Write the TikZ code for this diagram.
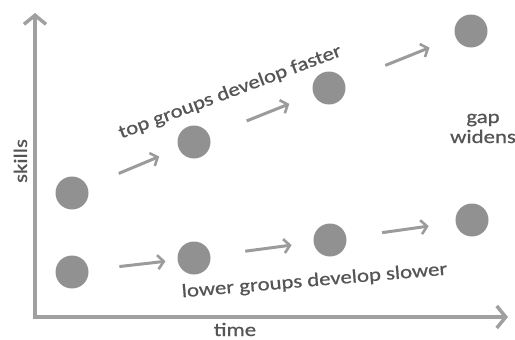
\documentclass[tikz,border=0pt]{standalone}
\usepackage{fontspec}
\newfontfamily\lblfont[FakeStretch=1.2,FakeBold=0.7]{Carlito}
\usetikzlibrary{arrows.meta}
\definecolor{axisgray}{RGB}{160,160,160}
\definecolor{dotgray}{RGB}{145,145,145}
\definecolor{flowgray}{RGB}{155,155,155}
\definecolor{textgray}{RGB}{85,85,85}
\tikzset{
  axis/.style={draw=axisgray, line width=4pt,
    arrows={Straight Barb[length=9pt,width=22pt,line width=3.5pt]-Straight Barb[length=9pt,width=22pt,line width=3.5pt]}},
  dot/.style={circle, fill=dotgray, minimum size=33pt, inner sep=0pt},
  flow/.style={draw=flowgray, line width=3pt,
    -{Straight Barb[length=6pt,width=14pt,line width=2.6pt]}},
  lbl/.style={text=textgray, font=\lblfont\fontsize{19}{20}\selectfont, inner sep=0pt}
}
\begin{document}
\begin{tikzpicture}[x=1pt,y=-1pt]
\useasboundingbox (0,0) rectangle (515,340);
% axes
\coordinate (ytop) at (35,13);
\coordinate (orig) at (35,317);
\coordinate (xend) at (508,317);
\draw[axis] (ytop) -- (orig) -- (xend);
\node[lbl, anchor=base] (time) at (235,336) {time};
\node[lbl, anchor=base, rotate=90] (skills) at (27,161) {skills};
% top groups
\node[dot] (t1) at (72,193) {};
\node[dot] (t2) at (194,142) {};
\node[dot] (t3) at (329,88) {};
\node[dot] (t4) at (471,31) {};
% lower groups
\node[dot] (b1) at (72,272) {};
\node[dot] (b2) at (194,258) {};
\node[dot] (b3) at (330,240) {};
\node[dot] (b4) at (472,220) {};
% progress arrows
\draw[flow, shorten <=34pt, shorten >=21pt, yshift=-4pt] (t1) -- (t2);
\draw[flow, shorten <=40pt, shorten >=26pt, yshift=-1pt] (t2) -- (t3);
\draw[flow, shorten <=44pt, shorten >=28pt, yshift=-1pt] (t3) -- (t4);
\draw[flow, shorten <=31pt, shorten >=12pt, yshift=-3pt] (b1) -- (b2);
\draw[flow, shorten <=35pt, shorten >=22pt, yshift=-2pt] (b2) -- (b3);
\draw[flow, shorten <=36pt, shorten >=27pt, yshift=-2pt] (b3) -- (b4);
% labels
\node[lbl, anchor=base, rotate=20.6] (toptxt) at (232,97) {top groups develop faster};
\node[lbl, anchor=base, rotate=4.9] (lowtxt) at (315,286) {lower groups develop slower};
\node[lbl, anchor=base] (gap) at (483,123) {gap};
\node[lbl, anchor=base] (widens) at (483,143) {widens};
\end{tikzpicture}
\end{document}
